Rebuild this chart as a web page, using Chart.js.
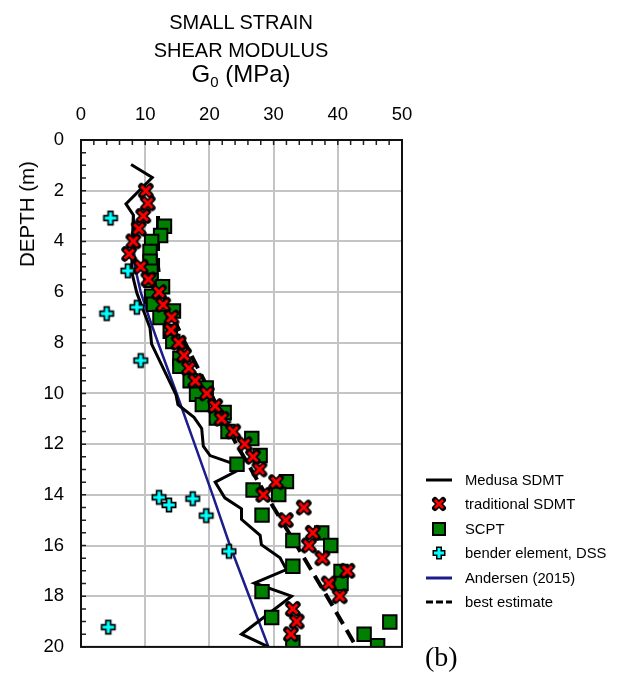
<!DOCTYPE html>
<html>
<head>
<meta charset="utf-8">
<script src="https://cdn.jsdelivr.net/npm/chart.js@4/dist/chart.umd.min.js"></script>
<style>
  html, body { margin: 0; padding: 0; background: #fff; }
  #wrap { position: relative; width: 617px; height: 675px; overflow: hidden;
          font-family: "Liberation Sans", Arial, sans-serif; color: #000; }
  #c { position: absolute; left: 0; top: 0; }
  .ttl { position: absolute; left: 0; width: 482px; text-align: center; white-space: nowrap; }
  .ttl1 { font-size: 20px; line-height: 20px; }
  .ttl3 { font-size: 24px; line-height: 24px; }
  .ttl3 sub { font-size: 15px; vertical-align: -5px; line-height: 0; }
  #ytitle { position: absolute; left: 27px; top: 214px; font-size: 20.5px; line-height: 20px;
            white-space: nowrap; transform: translate(-50%, -50%) rotate(-90deg); }
  #legend { position: absolute; left: 424px; top: 468px; font-size: 14.8px; }
  .row { position: relative; height: 24.4px; line-height: 24.4px; }
  .row svg { position: absolute; left: 0; top: 2px; }
  .row span { position: absolute; left: 41px; top: 0; white-space: nowrap; }
  #tag { position: absolute; left: 425px; top: 643px; font-family: "Liberation Serif", "Times New Roman", serif;
         font-size: 28px; line-height: 28px; }
</style>
</head>
<body>
<div id="wrap">
  <canvas id="c" width="617" height="675"></canvas>
  <div class="ttl ttl1" style="top:12px">SMALL STRAIN</div>
  <div class="ttl ttl1" style="top:40px">SHEAR MODULUS</div>
  <div class="ttl ttl3" style="top:62px">G<sub>0</sub> (MPa)</div>
  <div id="ytitle">DEPTH (m)</div>
  <div id="legend">
    <div class="row"><svg width="32" height="20"><line x1="2" y1="10" x2="28" y2="10" stroke="#000" stroke-width="3"/></svg><span>Medusa SDMT</span></div>
    <div class="row"><svg width="32" height="20"><path d="M11 6 L19 14 M19 6 L11 14" stroke="#000" stroke-width="6" stroke-linecap="round"/><path d="M11 6 L19 14 M19 6 L11 14" stroke="#f00" stroke-width="2.6"/></svg><span>traditional SDMT</span></div>
    <div class="row"><svg width="32" height="20"><rect x="9" y="4" width="12" height="12" fill="#008000" stroke="#000" stroke-width="2"/></svg><span>SCPT</span></div>
    <div class="row"><svg width="32" height="20"><path d="M15 3.5 L15 16.5 M8.5 10 L21.5 10" stroke="#000" stroke-width="6"/><path d="M15 5 L15 15 M10 10 L20 10" stroke="#0ff" stroke-width="3"/></svg><span>bender element, DSS</span></div>
    <div class="row"><svg width="32" height="20"><line x1="2" y1="10" x2="28" y2="10" stroke="#1c1c8a" stroke-width="3"/></svg><span>Andersen (2015)</span></div>
    <div class="row"><svg width="32" height="20"><line x1="2" y1="10" x2="28" y2="10" stroke="#000" stroke-width="3" stroke-dasharray="7 3"/></svg><span>best estimate</span></div>
  </div>
  <div id="tag">(b)</div>
</div>
<script>
// Depth in m, G0 in MPa
const medusaDepth = [0.97, 1.48, 2.52, 2.96, 4.0, 5.2, 6.04, 7.42, 8.05, 10.06, 10.44, 10.94, 11.38, 12.08, 12.45,
                     12.77, 12.96, 13.5, 14.12, 14.55, 14.97, 15.6, 15.97, 16.48, 16.95, 17.48, 18.0, 19.5, 20.0];
const medusaG     = [7.8, 11.1, 7.0, 8.15, 8.0, 7.9, 8.7, 10.75, 11.0, 14.8, 15.1, 17.6, 18.8, 19.05, 20.1,
                     23.7, 25.0, 20.9, 22.4, 25.0, 25.0, 27.9, 28.1, 31.0, 32.0, 27.0, 32.8, 25.0, 29.2];

const sdmtDepth = [2.0, 2.5, 3.0, 3.5, 4.0, 4.5, 5.0, 5.5, 6.0, 6.5, 7.0, 7.5, 8.0, 8.5, 9.0, 9.5, 10.0, 10.5,
                   11.0, 11.5, 12.0, 12.5, 13.0, 13.5, 14.0, 14.5, 15.0, 15.5, 16.0, 16.5, 17.0, 17.5, 18.0, 18.5, 19.0, 19.5];
const sdmtG     = [10.1, 10.4, 9.7, 9.0, 8.15, 7.5, 9.3, 10.5, 12.15, 12.8, 14.1, 14.0, 15.2, 16.05, 16.8, 17.8, 19.6, 20.9,
                   21.9, 23.7, 25.5, 26.8, 27.8, 30.4, 28.4, 34.7, 31.9, 36.1, 35.5, 37.6, 41.5, 38.6, 40.3, 33.0, 33.6, 32.7];

const scptDepth = [3.4, 3.77, 4.0, 4.4, 4.78, 5.18, 5.53, 5.79, 6.16, 6.48, 6.75, 7.0, 7.55, 7.95, 8.62, 8.93, 9.5, 9.78,
                   10.03, 10.44, 10.75, 10.97, 11.5, 11.78, 12.45, 12.79, 13.48, 13.81, 13.99, 14.8, 15.5, 15.8, 16.0,
                   16.82, 17.02, 17.5, 17.82, 18.84, 19.02, 19.5, 19.83, 19.95];
const scptG     = [13.0, 12.4, 11.0, 10.75, 10.75, 10.9, 10.9, 12.7, 11.0, 11.3, 14.4, 12.3, 13.9, 14.3, 15.4, 15.4, 17.0, 19.5,
                   18.0, 18.9, 22.3, 21.1, 22.9, 26.6, 27.9, 24.3, 32.0, 26.8, 30.8, 28.2, 37.5, 33.0, 38.9,
                   33.0, 40.5, 40.5, 28.2, 29.7, 48.1, 44.1, 33.0, 46.2];

const benderDepth = [3.08, 5.16, 6.6, 6.85, 8.7, 11.05, 14.1, 14.4, 14.15, 14.82, 16.23, 19.22];
const benderG     = [4.6, 7.3, 8.7, 4.0, 9.3, 22.2, 12.15, 13.7, 17.4, 19.5, 23.05, 4.25];

const andersenDepth = [2.95, 4, 5, 6, 7, 8, 10, 12, 14, 16, 18, 20];
const andersenG     = [8.15, 8.2, 8.4, 9.3, 10.6, 12.0, 14.9, 17.7, 20.5, 23.2, 26.2, 29.2];

const bestDepth = [3.0, 5.0, 6.0, 8.0, 10.0, 12.0, 14.0, 16.0, 18.0, 20.0];
const bestG     = [12.0, 12.0, 12.5, 16.2, 20.2, 24.2, 28.8, 33.6, 38.3, 42.9];

const xTickStep = 10, yTickStep = 2;

function pts(g, d) { return g.map((v, i) => ({ x: v, y: d[i] })); }

// Outlined marker glyphs
function makeCross() {
  const c = document.createElement('canvas'); c.width = 18; c.height = 18;
  const k = c.getContext('2d');
  const path = () => { k.beginPath(); k.moveTo(4.5, 4.5); k.lineTo(13.5, 13.5); k.moveTo(13.5, 4.5); k.lineTo(4.5, 13.5); };
  k.lineCap = 'round'; k.strokeStyle = '#000'; k.lineWidth = 6.5; path(); k.stroke();
  k.lineCap = 'butt'; k.strokeStyle = '#f00'; k.lineWidth = 3; path(); k.stroke();
  return c;
}
function makePlus() {
  const c = document.createElement('canvas'); c.width = 18; c.height = 18;
  const k = c.getContext('2d');
  k.strokeStyle = '#000'; k.lineWidth = 6.5;
  k.beginPath(); k.moveTo(9, 1.5); k.lineTo(9, 16.5); k.moveTo(1.5, 9); k.lineTo(16.5, 9); k.stroke();
  k.strokeStyle = '#0ff'; k.lineWidth = 3.2;
  k.beginPath(); k.moveTo(9, 3.2); k.lineTo(9, 14.8); k.moveTo(3.2, 9); k.lineTo(14.8, 9); k.stroke();
  return c;
}

const FONT = '"Liberation Sans", Arial, sans-serif';

// Frame and inward minor ticks
const framePlugin = {
  id: 'frame',
  afterDraw(chart) {
    const { ctx, chartArea: a, scales: { x, y } } = chart;
    ctx.save();
    ctx.strokeStyle = '#222'; ctx.lineWidth = 1.5;
    ctx.beginPath();
    for (let v = x.min; v <= x.max + 1e-9; v += 2) {
      const px = x.getPixelForValue(v);
      ctx.moveTo(px, a.top); ctx.lineTo(px, a.top + 5);
    }
    for (let v = y.min; v <= y.max + 1e-9; v += 0.5) {
      const py = y.getPixelForValue(v);
      ctx.moveTo(a.left, py); ctx.lineTo(a.left + 5, py);
    }
    ctx.stroke();
    ctx.strokeStyle = '#111'; ctx.lineWidth = 2;
    ctx.strokeRect(a.left, a.top, a.right - a.left, a.bottom - a.top);
    ctx.restore();
  }
};

new Chart(document.getElementById('c'), {
  type: 'scatter',
  data: {
    datasets: [
      { label: 'traditional SDMT', data: pts(sdmtG, sdmtDepth), pointStyle: makeCross(), pointRadius: 9, clip: 0 },
      { label: 'SCPT', data: pts(scptG, scptDepth), pointStyle: 'rect', pointRadius: 9.5,
        backgroundColor: '#008000', borderColor: '#000', pointBorderWidth: 2, clip: 0 },
      { label: 'bender element, DSS', data: pts(benderG, benderDepth), pointStyle: makePlus(), pointRadius: 9, clip: 0 },
      { label: 'best estimate', data: pts(bestG, bestDepth), showLine: true, pointRadius: 0,
        borderColor: '#000', borderWidth: 4, borderDash: [14, 7], clip: 0 },
      { label: 'Medusa SDMT', data: pts(medusaG, medusaDepth), showLine: true, pointRadius: 0,
        borderColor: '#000', borderWidth: 3, clip: 0 },
      { label: 'Andersen (2015)', data: pts(andersenG, andersenDepth), showLine: true, pointRadius: 0,
        borderColor: '#1c1c8a', borderWidth: 2.5, clip: 0 }
    ]
  },
  options: {
    responsive: false,
    devicePixelRatio: 1,
    animation: false,
    layout: { padding: { left: 0, top: 0, right: 215, bottom: 5 } },
    elements: { line: { tension: 0 } },
    plugins: { legend: { display: false }, tooltip: { enabled: false } },
    scales: {
      x: {
        type: 'linear', position: 'top', min: 0, max: 50,
        ticks: { stepSize: xTickStep, color: '#000', padding: 14, font: { family: FONT, size: 18.5 } },
        grid: { color: '#c4c4c4', lineWidth: 2, drawTicks: false },
        border: { display: false },
        afterFit(s) { s.height = 140; }
      },
      y: {
        type: 'linear', reverse: true, min: 0, max: 20,
        ticks: { stepSize: yTickStep, color: '#000', padding: 17, font: { family: FONT, size: 18.5 } },
        grid: { color: '#c4c4c4', lineWidth: 2, drawTicks: false },
        border: { display: false },
        afterFit(s) { s.width = 81; }
      }
    }
  },
  plugins: [framePlugin]
});
</script>
</body>
</html>
